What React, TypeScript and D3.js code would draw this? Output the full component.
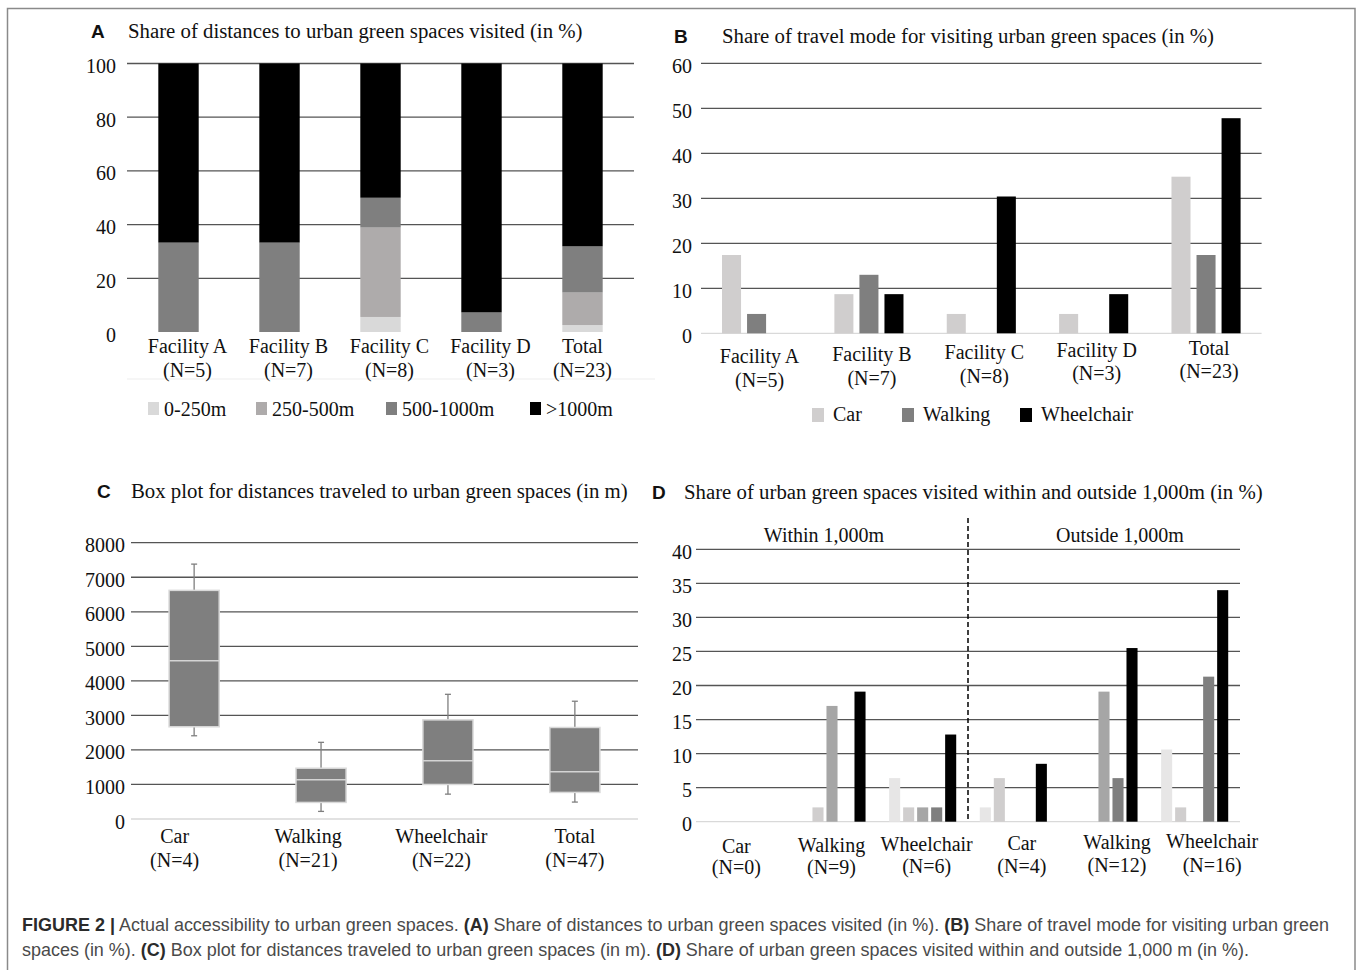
import { useEffect, useRef } from 'react';
import * as d3 from 'd3';

const W = 1357, H = 970;
const serif = "'Liberation Serif','Times New Roman',serif";
const sans = "'Liberation Sans',Arial,sans-serif";
const COL = { grid: '#555555', zero: '#d9d9d9', text: '#111111', frame: '#8a8a8a', faint: '#ededed' };

// ── A: share of distances (stacked %) ──
const distCats = ['Facility A', 'Facility B', 'Facility C', 'Facility D', 'Total'];
const distN = ['(N=5)', '(N=7)', '(N=8)', '(N=3)', '(N=23)'];
const distBands = ['0-250m', '250-500m', '500-1000m', '>1000m'];
const dist0to250 = [0, 0, 5.6, 0, 2.6];
const dist250to500 = [0, 0, 33.3, 0, 12.1];
const dist500to1000 = [33.3, 33.3, 11.1, 7.3, 17.2];
const distOver1000 = [66.7, 66.7, 50.0, 92.7, 68.1];
const distTicks = [0, 20, 40, 60, 80, 100];
const distColors = ['#d9d9d9', '#aeabab', '#7f7f7f', '#000000'];

// ── B: travel mode (%) ──
const modeSeries = ['Car', 'Walking', 'Wheelchair'];
const modeCar = [17.4, 8.7, 4.3, 4.3, 34.8];
const modeWalking = [4.3, 13.0, 0, 0, 17.4];
const modeWheelchair = [0, 8.7, 30.4, 8.7, 47.8];
const modeTicks = [0, 10, 20, 30, 40, 50, 60];
const modeColors = ['#d0cece', '#7f7f7f', '#000000'];

// ── C: box plot distances (m) ──
const boxCats = ['Car', 'Walking', 'Wheelchair', 'Total'];
const boxN = ['(N=4)', '(N=21)', '(N=22)', '(N=47)'];
const boxMin = [2410, 220, 720, 490];
const boxQ1 = [2670, 480, 1000, 770];
const boxMedian = [4580, 1140, 1690, 1370];
const boxQ3 = [6620, 1470, 2870, 2650];
const boxMax = [7380, 2220, 3610, 3410];
const boxTicks = [0, 1000, 2000, 3000, 4000, 5000, 6000, 7000, 8000];

// ── D: within / outside 1,000m (%) ──
const zoneCats = ['Car', 'Walking', 'Wheelchair', 'Car', 'Walking', 'Wheelchair'];
const zoneN = ['(N=0)', '(N=9)', '(N=6)', '(N=4)', '(N=12)', '(N=16)'];
const zoneLabels = ['Within 1,000m', 'Outside 1,000m'];
const zoneSeries = ['Facility A', 'Facility B', 'Facility C', 'Facility D', 'Total'];
const zoneFacA = [0, 0, 6.4, 2.1, 0, 10.6];
const zoneFacB = [0, 2.1, 2.1, 6.4, 0, 2.1];
const zoneFacC = [0, 17.0, 2.1, 0, 19.1, 0];
const zoneFacD = [0, 0, 2.1, 0, 6.4, 21.3];
const zoneTotal = [0, 19.1, 12.8, 8.5, 25.5, 34.0];
const zoneTicks = [0, 5, 10, 15, 20, 25, 30, 35, 40];
const zoneColors = ['#e7e6e6', '#d0cece', '#a6a6a6', '#7f7f7f', '#000000'];

const captionLine1 = [
  { t: 'FIGURE 2 |', b: true },
  { t: ' Actual accessibility to urban green spaces. ', b: false },
  { t: '(A)', b: true },
  { t: ' Share of distances to urban green spaces visited (in %). ', b: false },
  { t: '(B)', b: true },
  { t: ' Share of travel mode for visiting urban green', b: false },
];
const captionLine2 = [
  { t: 'spaces (in %). ', b: false },
  { t: '(C)', b: true },
  { t: ' Box plot for distances traveled to urban green spaces (in m). ', b: false },
  { t: '(D)', b: true },
  { t: ' Share of urban green spaces visited within and outside 1,000 m (in %).', b: false },
];

export default function App() {
  const svgRef = useRef<SVGSVGElement>(null);

  useEffect(() => {
    if (!svgRef.current) return;
    const svg = d3.select(svgRef.current);
    svg.selectAll('*').remove();

    svg.append('rect').attr('width', W).attr('height', H).attr('fill', '#fff');
    svg.append('rect').attr('x', 7.5).attr('y', 8.5).attr('width', 1347.5).attr('height', H + 20)
      .attr('fill', 'none').attr('stroke', COL.frame).attr('stroke-width', 1.5);

    const txt = (g: any, x: number, y: number, s: string, size = 20, anchor = 'middle') =>
      g.append('text').attr('x', x).attr('y', y).attr('text-anchor', anchor)
        .attr('font-family', serif).attr('font-size', size).attr('fill', COL.text).text(s);

    const title = (letter: string, lx: number, tx: number, y: number, s: string) => {
      svg.append('text').attr('x', lx).attr('y', y).attr('font-family', sans).attr('font-weight', 'bold')
        .attr('font-size', 19).attr('fill', '#111').text(letter);
      txt(svg, tx, y, s, 20.8, 'start');
    };

    const grid = (x0: number, x1: number, y: any, ticks: number[], zero: boolean, labelX: number) => {
      const g = svg.append('g');
      g.selectAll('line').data(ticks.filter(t => t !== 0 || zero)).join('line')
        .attr('x1', x0).attr('x2', x1).attr('y1', (d: number) => y(d)).attr('y2', (d: number) => y(d))
        .attr('stroke', (d: number) => d === 0 ? COL.zero : COL.grid).attr('stroke-width', 1.3);
      g.selectAll('text').data(ticks).join('text')
        .attr('x', labelX).attr('y', (d: number) => y(d) + 9.5).attr('text-anchor', 'end')
        .attr('font-family', serif).attr('font-size', 20).attr('fill', COL.text).text((d: number) => d);
    };

    // ═══ Panel A ═══
    title('A', 91, 128, 38, 'Share of distances to urban green spaces visited (in %)');
    const ax = d3.scaleBand().domain(distCats).range([127, 634]).paddingInner(0.6).paddingOuter(0.31);
    const ay = d3.scaleLinear().domain([0, 100]).range([332, 63.5]);
    grid(127, 634, ay, distTicks, false, 116);
    const distRows = distCats.map((c, i) => ({
      cat: c, '0-250m': dist0to250[i], '250-500m': dist250to500[i],
      '500-1000m': dist500to1000[i], '>1000m': distOver1000[i],
    }));
    const stack = d3.stack<any>().keys(distBands)(distRows);
    svg.append('g').selectAll('g').data(stack).join('g').attr('fill', (_d: any, i: number) => distColors[i])
      .selectAll('rect').data((d: any) => d).join('rect')
      .attr('x', (d: any) => ax(d.data.cat)!).attr('width', ax.bandwidth())
      .attr('y', (d: any) => ay(d[1])).attr('height', (d: any) => ay(d[0]) - ay(d[1]));
    svg.append('line').attr('x1', 127).attr('x2', 655).attr('y1', 379).attr('y2', 379)
      .attr('stroke', COL.faint).attr('stroke-width', 1.2);
    distCats.forEach((c, i) => {
      const cx = ax(c)! + ax.bandwidth() / 2 + (i < 4 ? 9 : 0);
      txt(svg, cx, 353, c);
      txt(svg, cx, 377, distN[i]);
    });
    const legAX = [148, 256, 386, 530];
    distBands.forEach((b, i) => {
      svg.append('rect').attr('x', legAX[i]).attr('y', 402).attr('width', 11).attr('height', 13).attr('fill', distColors[i]);
      txt(svg, legAX[i] + 16, 416, b, 20, 'start');
    });

    // ═══ Panel B ═══
    title('B', 674, 722, 43, 'Share of travel mode for visiting urban green spaces (in %)');
    const bx = d3.scaleBand().domain(distCats).range([701, 1261.6]).paddingInner(0.385).paddingOuter(0.187);
    const bxi = d3.scaleBand().domain(modeSeries).range([0, bx.bandwidth()]).paddingInner(0.24);
    const by = d3.scaleLinear().domain([0, 60]).range([333.3, 63.3]);
    grid(701, 1261.6, by, modeTicks, true, 692);
    const modeVals = [modeCar, modeWalking, modeWheelchair];
    distCats.forEach((c, i) => {
      modeSeries.forEach((s, j) => {
        const v = modeVals[j][i];
        if (!v) return;
        svg.append('rect').attr('x', bx(c)! + bxi(s)!).attr('width', bxi.bandwidth())
          .attr('y', by(v)).attr('height', by(0) - by(v)).attr('fill', modeColors[j]);
      });
      const cx = bx(c)! + bx.bandwidth() / 2 + 3;
      txt(svg, cx, 363 - i * 2, c);
      txt(svg, cx, 387 - i * 2.2, distN[i]);
    });
    const legBX = [812, 902, 1020];
    modeSeries.forEach((s, i) => {
      svg.append('rect').attr('x', legBX[i]).attr('y', 408).attr('width', 12).attr('height', 14).attr('fill', modeColors[i]);
      txt(svg, legBX[i] + 21, 421, s, 20, 'start');
    });

    // ═══ Panel C ═══
    title('C', 97, 131, 498, 'Box plot for distances traveled to urban green spaces (in m)');
    const cxs = d3.scaleBand().domain(boxCats).range([131, 638]).paddingInner(0.605).paddingOuter(0.3);
    const cy = d3.scaleLinear().domain([0, 8000]).range([819, 542.7]);
    grid(131, 638, cy, boxTicks, true, 125);
    boxCats.forEach((c, i) => {
      const x0 = cxs(c)!, bw = cxs.bandwidth(), mid = x0 + bw / 2;
      const g = svg.append('g');
      const wh = (a: number, b: number) => g.append('line').attr('x1', mid).attr('x2', mid)
        .attr('y1', cy(a)).attr('y2', cy(b)).attr('stroke', '#7f7f7f').attr('stroke-width', 1.3);
      wh(boxMin[i], boxQ1[i]);
      wh(boxQ3[i], boxMax[i]);
      [boxMin[i], boxMax[i]].forEach(v => g.append('line').attr('x1', mid - 3).attr('x2', mid + 3)
        .attr('y1', cy(v)).attr('y2', cy(v)).attr('stroke', '#7f7f7f').attr('stroke-width', 1.3));
      g.append('rect').attr('x', x0).attr('width', bw).attr('y', cy(boxQ3[i])).attr('height', cy(boxQ1[i]) - cy(boxQ3[i]))
        .attr('fill', '#7f7f7f').attr('stroke', '#d9d9d9').attr('stroke-width', 1.5);
      g.append('line').attr('x1', x0).attr('x2', x0 + bw).attr('y1', cy(boxMedian[i])).attr('y2', cy(boxMedian[i]))
        .attr('stroke', '#d4d4d4').attr('stroke-width', 1.5);
      const lx = mid + (i - 3) * 6.5;
      txt(svg, lx, 843, c);
      txt(svg, lx, 867, boxN[i]);
    });

    // ═══ Panel D ═══
    title('D', 652, 684, 499, 'Share of urban green spaces visited within and outside 1,000m (in %)');
    const dKeys = zoneCats.map((_c, i) => String(i));
    const dx = d3.scaleBand().domain(dKeys).range([696, 1240]).paddingInner(0.26).paddingOuter(0.13);
    const dxi = d3.scaleBand().domain(zoneSeries).range([0, dx.bandwidth()]).paddingInner(0.21);
    const dy = d3.scaleLinear().domain([0, 40]).range([821.7, 549.3]);
    grid(696, 1240, dy, zoneTicks, true, 692);
    const zoneVals = [zoneFacA, zoneFacB, zoneFacC, zoneFacD, zoneTotal];
    dKeys.forEach((k, i) => {
      zoneSeries.forEach((s, j) => {
        const v = zoneVals[j][i];
        if (!v) return;
        svg.append('rect').attr('x', dx(k)! + dxi(s)!).attr('width', dxi.bandwidth())
          .attr('y', dy(v)).attr('height', dy(0) - dy(v)).attr('fill', zoneColors[j]);
      });
      const lx = dx(k)! + dx.bandwidth() / 2 - 5 + i * 4.5;
      txt(svg, lx, 853 - i, zoneCats[i]);
      txt(svg, lx, 874 - i * 0.4, zoneN[i]);
    });
    const split = (dx('2')! + dx.bandwidth() + dx('3')!) / 2;
    svg.append('line').attr('x1', split).attr('x2', split).attr('y1', 518).attr('y2', 822)
      .attr('stroke', '#000').attr('stroke-width', 1.5).attr('stroke-dasharray', '5,3');
    txt(svg, (dx('0')! + dx('2')! + dx.bandwidth()) / 2 - 8, 542, zoneLabels[0]);
    txt(svg, (dx('3')! + dx('5')! + dx.bandwidth()) / 2 + 16, 542, zoneLabels[1]);

    // ═══ Caption ═══
    const cap = (parts: { t: string; b: boolean }[], y: number, len: number) => {
      const t = svg.append('text').attr('x', 22).attr('y', y).attr('font-family', sans).attr('font-size', 17.5)
        .attr('textLength', len).attr('lengthAdjust', 'spacingAndGlyphs');
      parts.forEach(p => t.append('tspan').attr('font-weight', p.b ? 'bold' : 'normal')
        .attr('fill', p.b ? '#2b2b2b' : '#4a4a4a').text(p.t));
    };
    cap(captionLine1, 931, 1307);
    cap(captionLine2, 956, 1227);
  }, []);

  return (
    <div style={{ position: 'absolute', left: 0, top: 0 }}>
      <svg ref={svgRef} width={W} height={H} style={{ display: 'block' }} />
    </div>
  );
}
